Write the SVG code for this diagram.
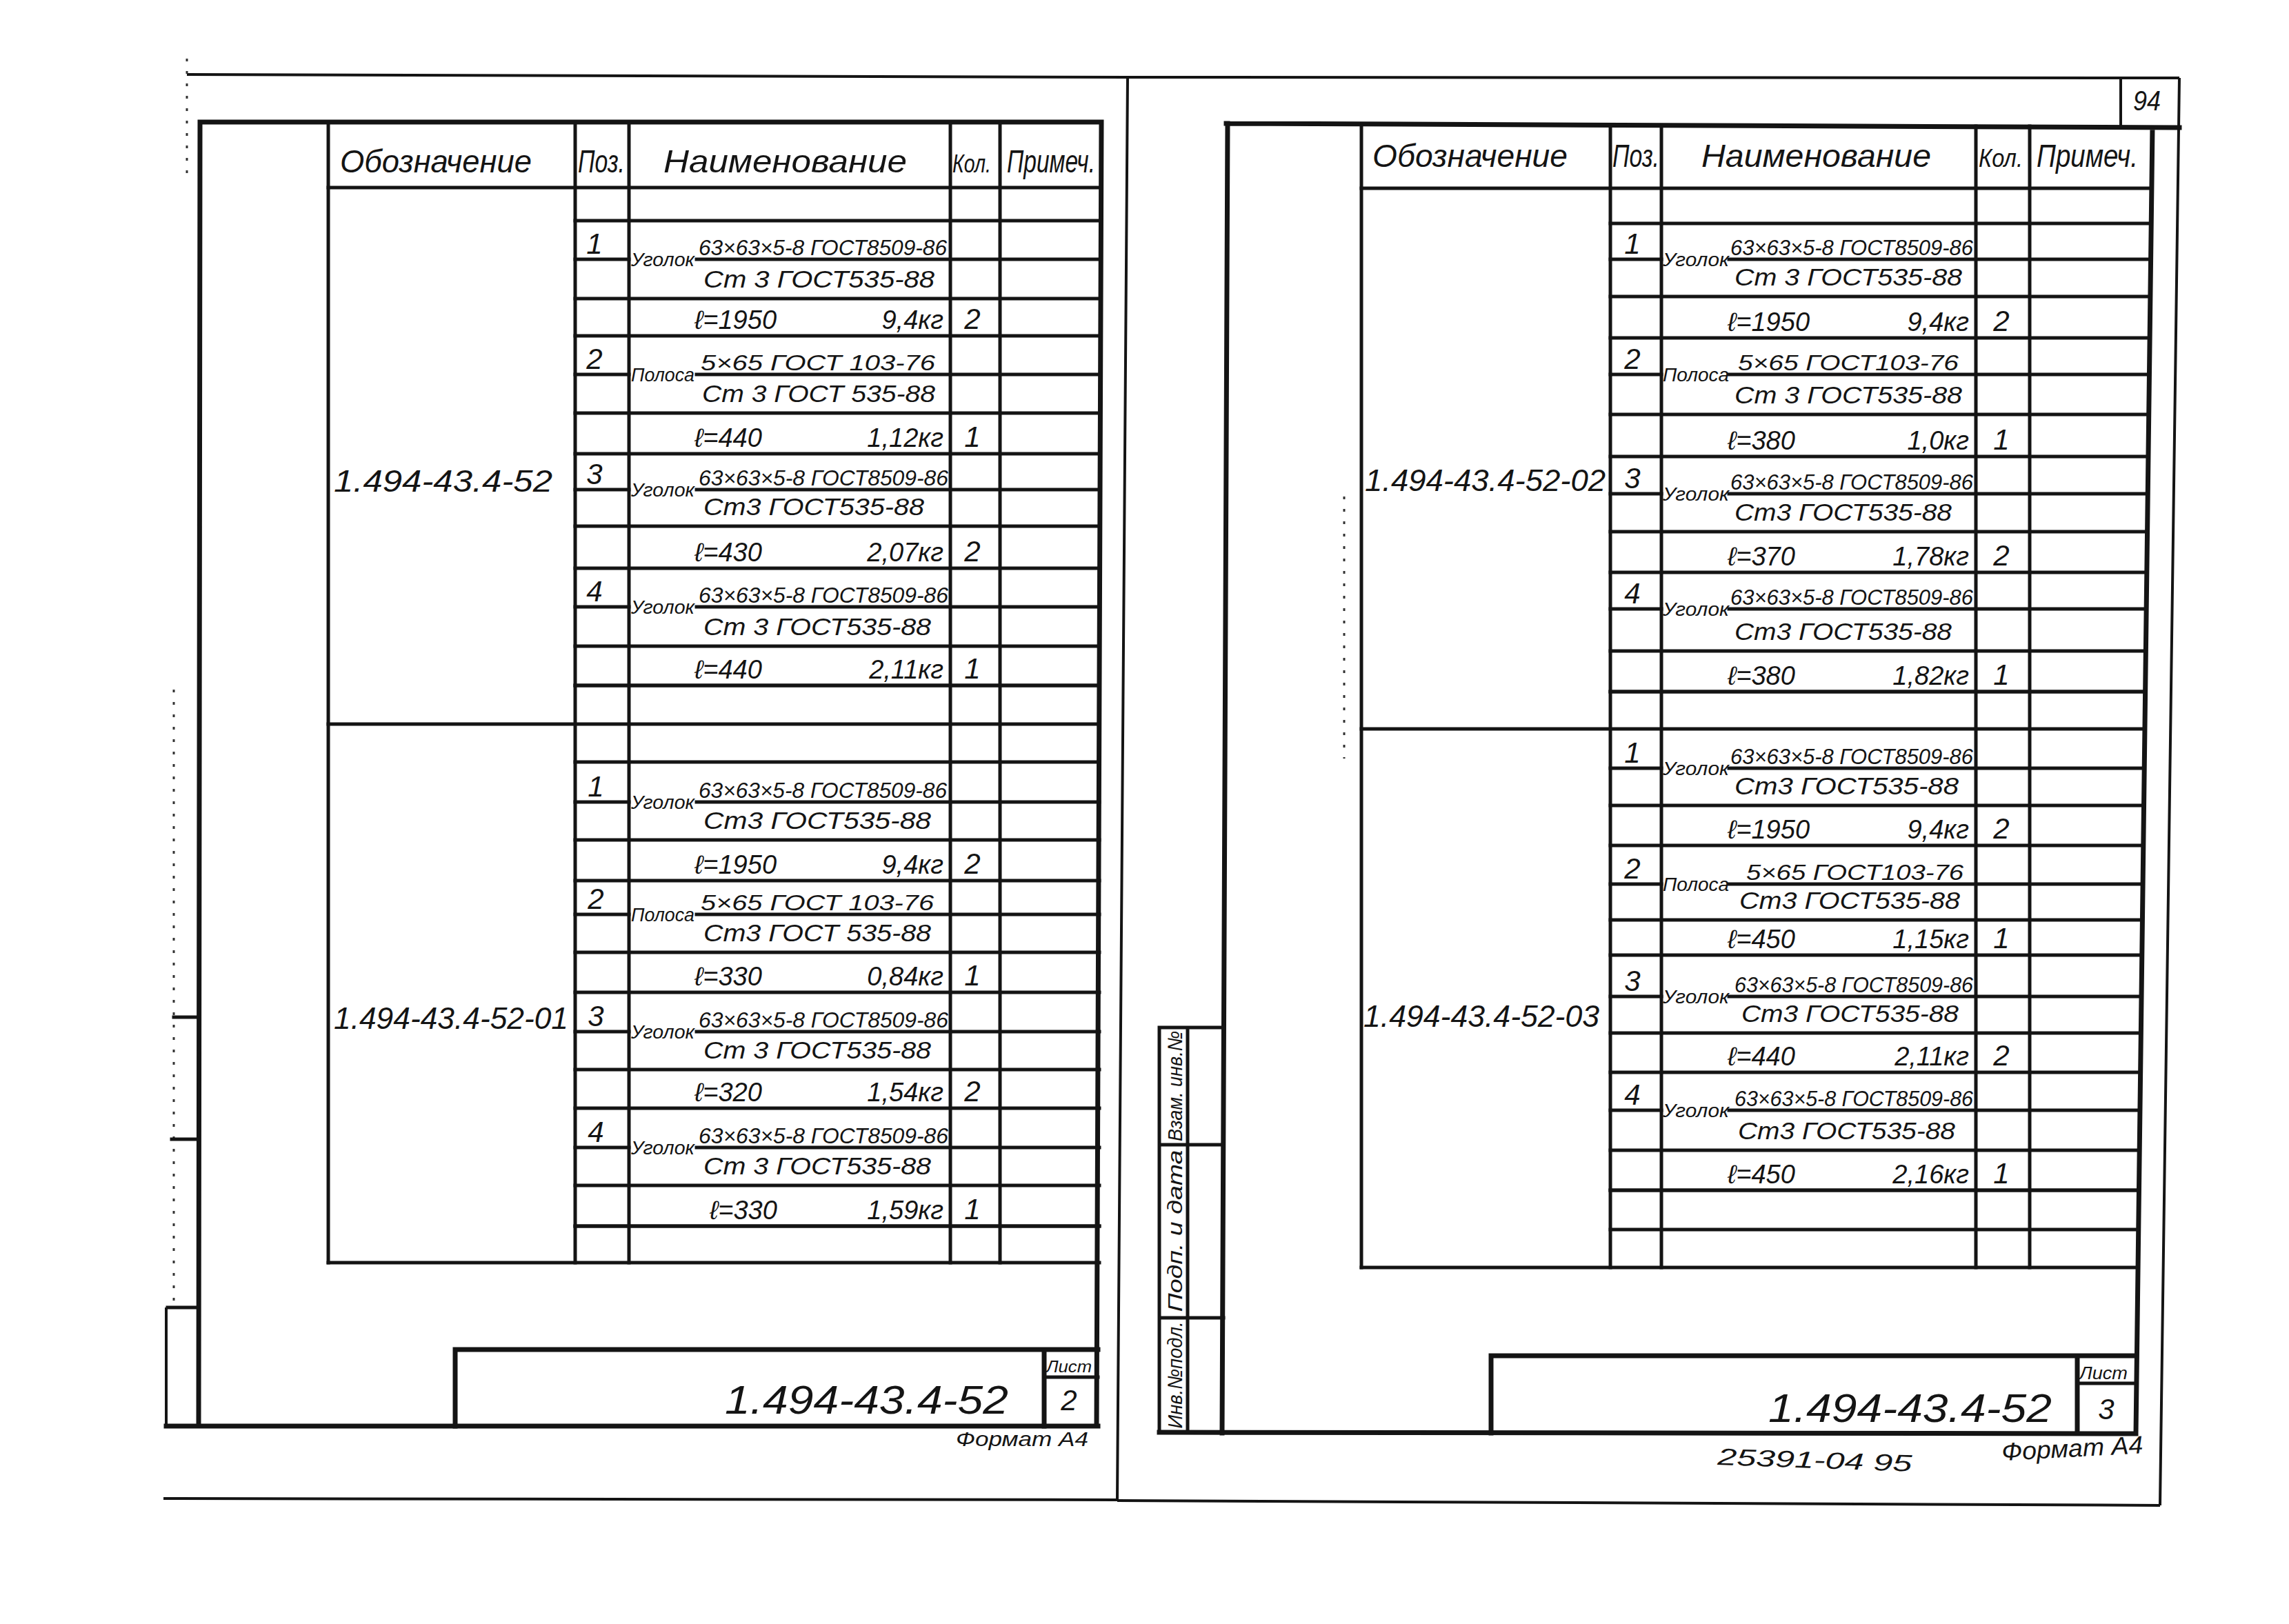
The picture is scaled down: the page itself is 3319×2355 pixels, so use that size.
<svg xmlns="http://www.w3.org/2000/svg" width="3319" height="2355" viewBox="0 0 3319 2355">
<style>
.ln{stroke:#141414;stroke-width:5;fill:none;stroke-linecap:square}
.fr{stroke:#141414;stroke-width:7;fill:none;stroke-linecap:square}
.th{stroke:#141414;stroke-width:4;fill:none}
.dt{stroke:#333;stroke-width:3;fill:none;stroke-dasharray:4 14}
text{font-family:"Liberation Sans","DejaVu Sans",sans-serif;font-style:italic;fill:#141414}
.h{font-size:46px}
.hs{font-size:37px}
.p{font-size:42px;text-anchor:middle}
.lb{font-size:28px}
.nu{font-size:31px}
.de{font-size:35px}
.le{font-size:38px}
.ms{font-size:38px;text-anchor:end}
.q{font-size:42px;text-anchor:middle}
.ob{font-size:44px}
.ti{font-size:58px}
</style>
<rect x="0" y="0" width="3319" height="2355" fill="#fff"/>

<!-- LEFT SHEET -->
<g id="left-sheet-frame">
  <path class="th" d="M271 108L1635 112M1635 112L1620 2175M237 2173L1620 2175"/>
  <path class="dt" d="M271 85V252M252 1000V1890M1949 720V1100"/>
  <path class="fr" d="M290 177L288 2068M290 177H1597M1597 177L1590 2068M241 2068H1592"/>
  <path class="th" d="M241 1896V2068"/>
  <path class="ln" d="M252 1475H288M249 1652H288M243 1896H288"/>
</g>

<g id="left-table-grid">
  <path class="ln" d="M476 177V1831M834 177V1831M912 177V1831M1378 177V1831M1450 177V1831"/>
  <path class="ln" d="M476 272H1594M834 320H1594M834 994H1594M476 1050H1594M834 1105H1594M834 1778H1594M476 1831H1594"/>
</g>
<g id="left-table-header">
  <text class="h" x="493" y="250" textLength="278" lengthAdjust="spacingAndGlyphs">Обозначение</text>
  <text class="h" x="838" y="250" textLength="68" lengthAdjust="spacingAndGlyphs">Поз.</text>
  <text class="h" x="962" y="250" textLength="353" lengthAdjust="spacingAndGlyphs">Наименование</text>
  <text class="hs" x="1381" y="250" textLength="56" lengthAdjust="spacingAndGlyphs">Кол.</text>
  <text class="h" x="1460" y="250" textLength="128" lengthAdjust="spacingAndGlyphs">Примеч.</text>
</g>

<g id="left-group-52">
  <text class="ob" x="484" y="713" textLength="317" lengthAdjust="spacingAndGlyphs">1.494-43.4-52</text>
  <g id="l1-item1">
    <path class="ln" d="M834 376H912M1010 376H1594M834 433H1594M834 487H1594"/>
    <text class="p" x="862" y="368">1</text>
    <text class="lb" x="915" y="386" textLength="92" lengthAdjust="spacingAndGlyphs">Уголок</text>
    <text class="nu" x="1013" y="370" textLength="360" lengthAdjust="spacingAndGlyphs">63×63×5-8 ГОСТ8509-86</text>
    <text class="de" x="1020" y="417" textLength="335" lengthAdjust="spacingAndGlyphs">Ст 3  ГОСТ535-88</text>
    <text class="le" x="1007" y="477">ℓ=1950</text>
    <text class="ms" x="1368" y="477">9,4кг</text>
    <text class="q" x="1410" y="477">2</text>
  </g>
  <g id="l1-item2">
    <path class="ln" d="M834 543H912M1010 543H1594M834 599H1594M834 658H1594"/>
    <text class="p" x="862" y="535">2</text>
    <text class="lb" x="915" y="553" textLength="92" lengthAdjust="spacingAndGlyphs">Полоса</text>
    <text class="nu" x="1016" y="537" textLength="340" lengthAdjust="spacingAndGlyphs">5×65 ГОСТ 103-76</text>
    <text class="de" x="1018" y="583" textLength="338" lengthAdjust="spacingAndGlyphs">Ст 3 ГОСТ 535-88</text>
    <text class="le" x="1007" y="648">ℓ=440</text>
    <text class="ms" x="1368" y="648">1,12кг</text>
    <text class="q" x="1410" y="648">1</text>
  </g>
  <g id="l1-item3">
    <path class="ln" d="M834 710H912M1010 710H1594M834 763H1594M834 824H1594"/>
    <text class="p" x="862" y="702">3</text>
    <text class="lb" x="915" y="720" textLength="92" lengthAdjust="spacingAndGlyphs">Уголок</text>
    <text class="nu" x="1013" y="704" textLength="362" lengthAdjust="spacingAndGlyphs">63×63×5-8 ГОСТ8509-86</text>
    <text class="de" x="1020" y="747" textLength="320" lengthAdjust="spacingAndGlyphs">Ст3 ГОСТ535-88</text>
    <text class="le" x="1007" y="814">ℓ=430</text>
    <text class="ms" x="1368" y="814">2,07кг</text>
    <text class="q" x="1410" y="814">2</text>
  </g>
  <g id="l1-item4">
    <path class="ln" d="M834 880H912M1010 880H1594M834 937H1594M834 994H1594"/>
    <text class="p" x="862" y="872">4</text>
    <text class="lb" x="915" y="890" textLength="92" lengthAdjust="spacingAndGlyphs">Уголок</text>
    <text class="nu" x="1013" y="874" textLength="362" lengthAdjust="spacingAndGlyphs">63×63×5-8 ГОСТ8509-86</text>
    <text class="de" x="1020" y="921" textLength="330" lengthAdjust="spacingAndGlyphs">Ст 3 ГОСТ535-88</text>
    <text class="le" x="1007" y="984">ℓ=440</text>
    <text class="ms" x="1368" y="984">2,11кг</text>
    <text class="q" x="1410" y="984">1</text>
  </g>
</g>

<g id="left-group-52-01">
  <text class="ob" x="484" y="1492" textLength="340" lengthAdjust="spacingAndGlyphs">1.494-43.4-52-01</text>
  <g id="l2-item1">
    <path class="ln" d="M834 1163H912M1010 1163H1594M834 1218H1594M834 1277H1594"/>
    <text class="p" x="864" y="1155">1</text>
    <text class="lb" x="915" y="1173" textLength="92" lengthAdjust="spacingAndGlyphs">Уголок</text>
    <text class="nu" x="1013" y="1157" textLength="360" lengthAdjust="spacingAndGlyphs">63×63×5-8 ГОСТ8509-86</text>
    <text class="de" x="1020" y="1202" textLength="330" lengthAdjust="spacingAndGlyphs">Ст3  ГОСТ535-88</text>
    <text class="le" x="1007" y="1267">ℓ=1950</text>
    <text class="ms" x="1368" y="1267">9,4кг</text>
    <text class="q" x="1410" y="1267">2</text>
  </g>
  <g id="l2-item2">
    <path class="ln" d="M834 1326H912M1010 1326H1594M834 1381H1594M834 1439H1594"/>
    <text class="p" x="864" y="1318">2</text>
    <text class="lb" x="915" y="1336" textLength="92" lengthAdjust="spacingAndGlyphs">Полоса</text>
    <text class="nu" x="1016" y="1320" textLength="338" lengthAdjust="spacingAndGlyphs">5×65 ГОСТ 103-76</text>
    <text class="de" x="1020" y="1365" textLength="330" lengthAdjust="spacingAndGlyphs">Ст3 ГОСТ 535-88</text>
    <text class="le" x="1007" y="1429">ℓ=330</text>
    <text class="ms" x="1368" y="1429">0,84кг</text>
    <text class="q" x="1410" y="1429">1</text>
  </g>
  <g id="l2-item3">
    <path class="ln" d="M834 1496H912M1010 1496H1594M834 1551H1594M834 1607H1594"/>
    <text class="p" x="864" y="1488">3</text>
    <text class="lb" x="915" y="1506" textLength="92" lengthAdjust="spacingAndGlyphs">Уголок</text>
    <text class="nu" x="1013" y="1490" textLength="362" lengthAdjust="spacingAndGlyphs">63×63×5-8 ГОСТ8509-86</text>
    <text class="de" x="1020" y="1535" textLength="330" lengthAdjust="spacingAndGlyphs">Ст 3  ГОСТ535-88</text>
    <text class="le" x="1007" y="1597">ℓ=320</text>
    <text class="ms" x="1368" y="1597">1,54кг</text>
    <text class="q" x="1410" y="1597">2</text>
  </g>
  <g id="l2-item4">
    <path class="ln" d="M834 1664H912M1010 1664H1594M834 1719H1594M834 1778H1594"/>
    <text class="p" x="864" y="1656">4</text>
    <text class="lb" x="915" y="1674" textLength="92" lengthAdjust="spacingAndGlyphs">Уголок</text>
    <text class="nu" x="1013" y="1658" textLength="362" lengthAdjust="spacingAndGlyphs">63×63×5-8 ГОСТ8509-86</text>
    <text class="de" x="1020" y="1703" textLength="330" lengthAdjust="spacingAndGlyphs">Ст 3 ГОСТ535-88</text>
    <text class="le" x="1029" y="1768">ℓ=330</text>
    <text class="ms" x="1368" y="1768">1,59кг</text>
    <text class="q" x="1410" y="1768">1</text>
  </g>
</g>

<g id="left-title-block">
  <path class="fr" d="M660 1957H1592M660 1957V2068M1514 1960V2068"/>
  <path class="ln" d="M1514 1997H1592"/>
  <text class="ti" x="1051" y="2050" textLength="411" lengthAdjust="spacingAndGlyphs">1.494-43.4-52</text>
  <text x="1517" y="1990" font-size="24" textLength="66" lengthAdjust="spacingAndGlyphs">Лист</text>
  <text class="q" x="1550" y="2045">2</text>
  <text x="1386" y="2097" font-size="30" textLength="192" lengthAdjust="spacingAndGlyphs">Формат А4</text>
</g>

<!-- RIGHT SHEET -->
<g id="right-sheet-frame">
  <path class="th" d="M1633 112L3160 113M3160 113L3132 2183M1620 2176L3132 2183M3075 113V183"/>
  <path class="fr" d="M1778 179L3160 185M1780 179L1772 2078M3121 185L3097 2079M1681 2077L3097 2079"/>
  <text x="3093" y="160" font-size="40" font-style="normal" textLength="40" lengthAdjust="spacingAndGlyphs">94</text>
</g>

<g id="right-stamp">
  <path class="ln" d="M1681 1490H1774M1681 1490V2077M1722 1490V2077M1681 1660H1774M1681 1911H1774"/>
  <text x="0" y="0" font-size="30" text-anchor="middle" transform="translate(1714 1575) rotate(-90)" textLength="160" lengthAdjust="spacingAndGlyphs">Взам. инв.№</text>
  <text x="0" y="0" font-size="30" text-anchor="middle" transform="translate(1714 1785) rotate(-90)" textLength="235" lengthAdjust="spacingAndGlyphs">Подп. и дата</text>
  <text x="0" y="0" font-size="30" text-anchor="middle" transform="translate(1714 1994) rotate(-90)" textLength="155" lengthAdjust="spacingAndGlyphs">Инв.№подл.</text>
</g>

<g id="right-table-grid">
  <path class="ln" d="M1974 183V1838M2335 183V1838M2409 183V1838M2865 183V1838M2943 183V1838"/>
  <path class="ln" d="M1974 273H3120M2335 324H3119M2335 1003H3111M1974 1057H3110M2335 1726H3101M2335 1783H3101M1974 1838H3100"/>
</g>
<g id="right-table-header">
  <text class="h" x="1990" y="242" textLength="283" lengthAdjust="spacingAndGlyphs">Обозначение</text>
  <text class="h" x="2338" y="242" textLength="68" lengthAdjust="spacingAndGlyphs">Поз.</text>
  <text class="h" x="2467" y="242" textLength="333" lengthAdjust="spacingAndGlyphs">Наименование</text>
  <text class="hs" x="2869" y="242" textLength="64" lengthAdjust="spacingAndGlyphs">Кол.</text>
  <text class="h" x="2953" y="242" textLength="147" lengthAdjust="spacingAndGlyphs">Примеч.</text>
</g>

<g id="right-group-52-02">
  <text class="ob" x="1979" y="712" textLength="349" lengthAdjust="spacingAndGlyphs">1.494-43.4-52-02</text>
  <g id="r1-item1">
    <path class="ln" d="M2335 376H2409M2507 376H3119M2335 430H3118M2335 490H3117"/>
    <text class="p" x="2367" y="368">1</text>
    <text class="lb" x="2411" y="386" textLength="96" lengthAdjust="spacingAndGlyphs">Уголок</text>
    <text class="nu" x="2509" y="370" textLength="352" lengthAdjust="spacingAndGlyphs">63×63×5-8 ГОСТ8509-86</text>
    <text class="de" x="2515" y="414" textLength="330" lengthAdjust="spacingAndGlyphs">Ст 3  ГОСТ535-88</text>
    <text class="le" x="2505" y="480">ℓ=1950</text>
    <text class="ms" x="2855" y="480">9,4кг</text>
    <text class="q" x="2902" y="480">2</text>
  </g>
  <g id="r1-item2">
    <path class="ln" d="M2335 543H2409M2507 543H3116M2335 601H3116M2335 662H3115"/>
    <text class="p" x="2367" y="535">2</text>
    <text class="lb" x="2411" y="553" textLength="96" lengthAdjust="spacingAndGlyphs">Полоса</text>
    <text class="nu" x="2520" y="537" textLength="320" lengthAdjust="spacingAndGlyphs">5×65 ГОСТ103-76</text>
    <text class="de" x="2515" y="585" textLength="330" lengthAdjust="spacingAndGlyphs">Ст 3 ГОСТ535-88</text>
    <text class="le" x="2505" y="652">ℓ=380</text>
    <text class="ms" x="2855" y="652">1,0кг</text>
    <text class="q" x="2902" y="652">1</text>
  </g>
  <g id="r1-item3">
    <path class="ln" d="M2335 716H2409M2507 716H3114M2335 771H3114M2335 830H3113"/>
    <text class="p" x="2367" y="708">3</text>
    <text class="lb" x="2411" y="726" textLength="96" lengthAdjust="spacingAndGlyphs">Уголок</text>
    <text class="nu" x="2509" y="710" textLength="352" lengthAdjust="spacingAndGlyphs">63×63×5-8 ГОСТ8509-86</text>
    <text class="de" x="2515" y="755" textLength="315" lengthAdjust="spacingAndGlyphs">Ст3  ГОСТ535-88</text>
    <text class="le" x="2505" y="820">ℓ=370</text>
    <text class="ms" x="2855" y="820">1,78кг</text>
    <text class="q" x="2902" y="820">2</text>
  </g>
  <g id="r1-item4">
    <path class="ln" d="M2335 883H2409M2507 883H3112M2335 944H3111M2335 1003H3111"/>
    <text class="p" x="2367" y="875">4</text>
    <text class="lb" x="2411" y="893" textLength="96" lengthAdjust="spacingAndGlyphs">Уголок</text>
    <text class="nu" x="2509" y="877" textLength="352" lengthAdjust="spacingAndGlyphs">63×63×5-8 ГОСТ8509-86</text>
    <text class="de" x="2515" y="928" textLength="315" lengthAdjust="spacingAndGlyphs">Ст3  ГОСТ535-88</text>
    <text class="le" x="2505" y="993">ℓ=380</text>
    <text class="ms" x="2855" y="993">1,82кг</text>
    <text class="q" x="2902" y="993">1</text>
  </g>
</g>

<g id="right-group-52-03">
  <text class="ob" x="1977" y="1489" textLength="342" lengthAdjust="spacingAndGlyphs">1.494-43.4-52-03</text>
  <g id="r2-item1">
    <path class="ln" d="M2335 1114H2409M2507 1114H3109M2335 1168H3109M2335 1226H3108"/>
    <text class="p" x="2367" y="1106">1</text>
    <text class="lb" x="2411" y="1124" textLength="96" lengthAdjust="spacingAndGlyphs">Уголок</text>
    <text class="nu" x="2509" y="1108" textLength="352" lengthAdjust="spacingAndGlyphs">63×63×5-8 ГОСТ8509-86</text>
    <text class="de" x="2515" y="1152" textLength="325" lengthAdjust="spacingAndGlyphs">Ст3 ГОСТ535-88</text>
    <text class="le" x="2505" y="1216">ℓ=1950</text>
    <text class="ms" x="2855" y="1216">9,4кг</text>
    <text class="q" x="2902" y="1216">2</text>
  </g>
  <g id="r2-item2">
    <path class="ln" d="M2335 1282H2409M2507 1282H3107M2335 1334H3106M2335 1385H3106"/>
    <text class="p" x="2367" y="1274">2</text>
    <text class="lb" x="2411" y="1292" textLength="96" lengthAdjust="spacingAndGlyphs">Полоса</text>
    <text class="nu" x="2532" y="1276" textLength="315" lengthAdjust="spacingAndGlyphs">5×65 ГОСТ103-76</text>
    <text class="de" x="2522" y="1318" textLength="320" lengthAdjust="spacingAndGlyphs">Ст3 ГОСТ535-88</text>
    <text class="le" x="2505" y="1375">ℓ=450</text>
    <text class="ms" x="2855" y="1375">1,15кг</text>
    <text class="q" x="2902" y="1375">1</text>
  </g>
  <g id="r2-item3">
    <path class="ln" d="M2335 1445H2409M2507 1445H3105M2335 1498H3104M2335 1555H3104"/>
    <text class="p" x="2367" y="1437">3</text>
    <text class="lb" x="2411" y="1455" textLength="96" lengthAdjust="spacingAndGlyphs">Уголок</text>
    <text class="nu" x="2515" y="1439" textLength="346" lengthAdjust="spacingAndGlyphs">63×63×5-8 ГОСТ8509-86</text>
    <text class="de" x="2525" y="1482" textLength="315" lengthAdjust="spacingAndGlyphs">Ст3 ГОСТ535-88</text>
    <text class="le" x="2505" y="1545">ℓ=440</text>
    <text class="ms" x="2855" y="1545">2,11кг</text>
    <text class="q" x="2902" y="1545">2</text>
  </g>
  <g id="r2-item4">
    <path class="ln" d="M2335 1610H2409M2507 1610H3103M2335 1668H3102M2335 1726H3101"/>
    <text class="p" x="2367" y="1602">4</text>
    <text class="lb" x="2411" y="1620" textLength="96" lengthAdjust="spacingAndGlyphs">Уголок</text>
    <text class="nu" x="2515" y="1604" textLength="346" lengthAdjust="spacingAndGlyphs">63×63×5-8 ГОСТ8509-86</text>
    <text class="de" x="2520" y="1652" textLength="315" lengthAdjust="spacingAndGlyphs">Ст3 ГОСТ535-88</text>
    <text class="le" x="2505" y="1716">ℓ=450</text>
    <text class="ms" x="2855" y="1716">2,16кг</text>
    <text class="q" x="2902" y="1716">1</text>
  </g>
</g>

<g id="right-title-block">
  <path class="fr" d="M2162 1966H3097M2162 1966V2078M3012 1968V2078"/>
  <path class="ln" d="M3012 2006H3097"/>
  <text class="ti" x="2564" y="2062" textLength="411" lengthAdjust="spacingAndGlyphs">1.494-43.4-52</text>
  <text x="3015" y="2000" font-size="26" textLength="70" lengthAdjust="spacingAndGlyphs">Лист</text>
  <text class="q" x="3054" y="2058" font-style="normal">3</text>
  <text x="2903" y="2118" font-size="36" transform="rotate(-3 2903 2118)" textLength="205" lengthAdjust="spacingAndGlyphs">Формат А4</text>
  <text x="2490" y="2124" font-size="34" transform="rotate(2 2490 2124)" textLength="282" lengthAdjust="spacingAndGlyphs">25391-04  95</text>
</g>
<g id="connectors"/>
</svg>
